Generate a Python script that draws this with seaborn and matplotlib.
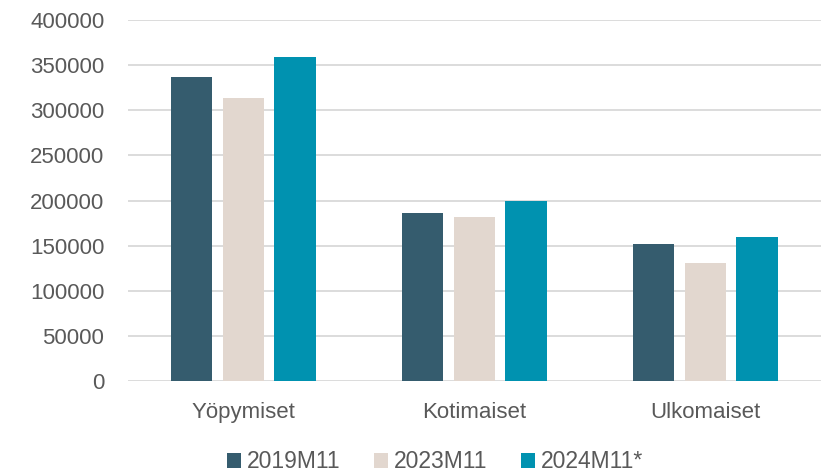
import pandas as pd
import matplotlib.pyplot as plt
import seaborn as sns

# values
categories = ['Yöpymiset', 'Kotimaiset', 'Ulkomaiset']
series = ['2019M11', '2023M11', '2024M11*']
v2019 = [337000, 186000, 151500]
v2023 = [313000, 182000, 131000]
v2024 = [358500, 199000, 159500]
colors = ['#355C6E', '#E2D7CF', '#0092B0']
yticks = [0, 50000, 100000, 150000, 200000, 250000, 300000, 350000, 400000]

df = pd.DataFrame({
    'Luokka': categories * 3,
    'Kausi': [series[0]] * 3 + [series[1]] * 3 + [series[2]] * 3,
    'Arvo': v2019 + v2023 + v2024,
})

sns.set_style('white')
plt.rcParams['font.family'] = ['Liberation Sans', 'DejaVu Sans']
text_col = '#595959'

fig = plt.figure(figsize=(8.25, 4.74), dpi=100)
ax = fig.add_axes([0.155, 0.196, 0.84, 0.762])

sns.barplot(data=df, x='Luokka', y='Arvo', hue='Kausi', palette=colors,
            saturation=1, width=0.67, gap=0.2, linewidth=0, ax=ax, legend=True)

ax.set_ylim(0, 400000)
ax.set_xlim(-0.5, 2.5)
ax.set_yticks(yticks)
ax.set_yticklabels([str(t) for t in yticks])
ax.yaxis.grid(True, color='#D9D9D9', linewidth=1.3)
ax.set_axisbelow(True)
for s in ax.spines.values():
    s.set_visible(False)
ax.tick_params(axis='y', length=0, pad=17, labelsize=16, labelcolor=text_col)
ax.tick_params(axis='x', length=0, pad=15, labelsize=16, labelcolor=text_col)
ax.set_xlabel('')
ax.set_ylabel('')

handles, labels = ax.get_legend_handles_labels()
ax.legend(handles, labels, loc='upper center', bbox_to_anchor=(0.443, -0.135),
          ncol=3, frameon=False, fontsize=16.5, labelcolor=text_col,
          handlelength=0.62, handleheight=0.62, handletextpad=0.25,
          columnspacing=1.45)

fig.savefig('out.png', dpi=100)
